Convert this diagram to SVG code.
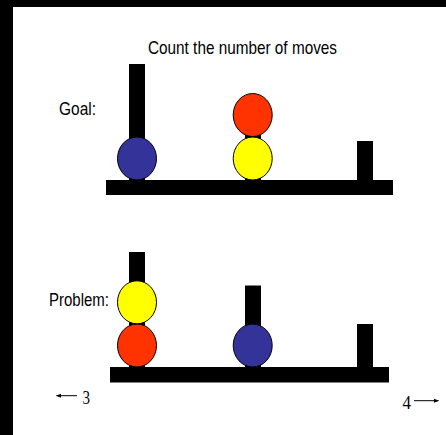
<svg xmlns="http://www.w3.org/2000/svg" width="446" height="435" viewBox="0 0 446 435">
<style>
.lbl{font-family:"Liberation Sans",Arial,sans-serif;fill:#000}
.num{font-family:"Liberation Serif","Times New Roman",serif;fill:#000;font-size:18px}
.ball{stroke:#000;stroke-width:1}
.blk{fill:#000}
</style>
<defs>
<marker id="ah" viewBox="0 0 10 10" refX="9" refY="5" markerWidth="5" markerHeight="5" orient="auto-start-reverse" markerUnits="userSpaceOnUse">
<path d="M0,1 L10,5 L0,9 z" fill="#000"/>
</marker>
</defs>
<rect x="0" y="0" width="446" height="435" fill="#fff"/>
<rect x="0" y="0" width="446" height="7" fill="#000"/>
<rect x="0" y="0" width="13" height="435" fill="#000"/>
<text class="lbl" x="148" y="54" font-size="19" textLength="189" lengthAdjust="spacingAndGlyphs">Count the number of moves</text>
<g id="goal">
<text class="lbl" x="59" y="115" font-size="17.5" textLength="37" lengthAdjust="spacingAndGlyphs">Goal:</text>
<rect class="blk" x="129" y="64" width="16" height="120"/>
<rect class="blk" x="245" y="100" width="16" height="84"/>
<rect class="blk" x="357" y="141" width="16" height="43"/>
<rect class="blk" x="106" y="180" width="287" height="15"/>
<ellipse class="ball" cx="137" cy="158.5" rx="19.5" ry="21.5" fill="#333399"/>
<ellipse class="ball" cx="252.7" cy="158.5" rx="19.5" ry="21.5" fill="#FFFF00"/>
<ellipse class="ball" cx="252.7" cy="115" rx="19.5" ry="21.5" fill="#FF3300"/>
</g>
<g id="problem">
<text class="lbl" x="49" y="305.5" font-size="17.5" textLength="60" lengthAdjust="spacingAndGlyphs">Problem:</text>
<rect class="blk" x="129" y="252" width="16" height="120"/>
<rect class="blk" x="245" y="285.5" width="16" height="86"/>
<rect class="blk" x="357" y="324" width="16" height="48"/>
<rect class="blk" x="110" y="367" width="279" height="15.5"/>
<ellipse class="ball" cx="137" cy="345.5" rx="19.5" ry="21.5" fill="#FF3300"/>
<ellipse class="ball" cx="137" cy="302.3" rx="19.5" ry="21.5" fill="#FFFF00"/>
<ellipse class="ball" cx="252.7" cy="345.5" rx="19.5" ry="21.5" fill="#333399"/>
</g>
<g id="connectors">
<line x1="77" y1="395.7" x2="56.5" y2="395.7" stroke="#000" stroke-width="1" marker-end="url(#ah)"/>
<line x1="414" y1="400.7" x2="438.5" y2="400.7" stroke="#000" stroke-width="1" marker-end="url(#ah)"/>
</g>
<g id="nav">
<text class="num" x="82.5" y="404" textLength="7.5" lengthAdjust="spacingAndGlyphs">3</text>
<text class="num" x="402.5" y="408.5" textLength="8.5" lengthAdjust="spacingAndGlyphs">4</text>
</g>
</svg>
